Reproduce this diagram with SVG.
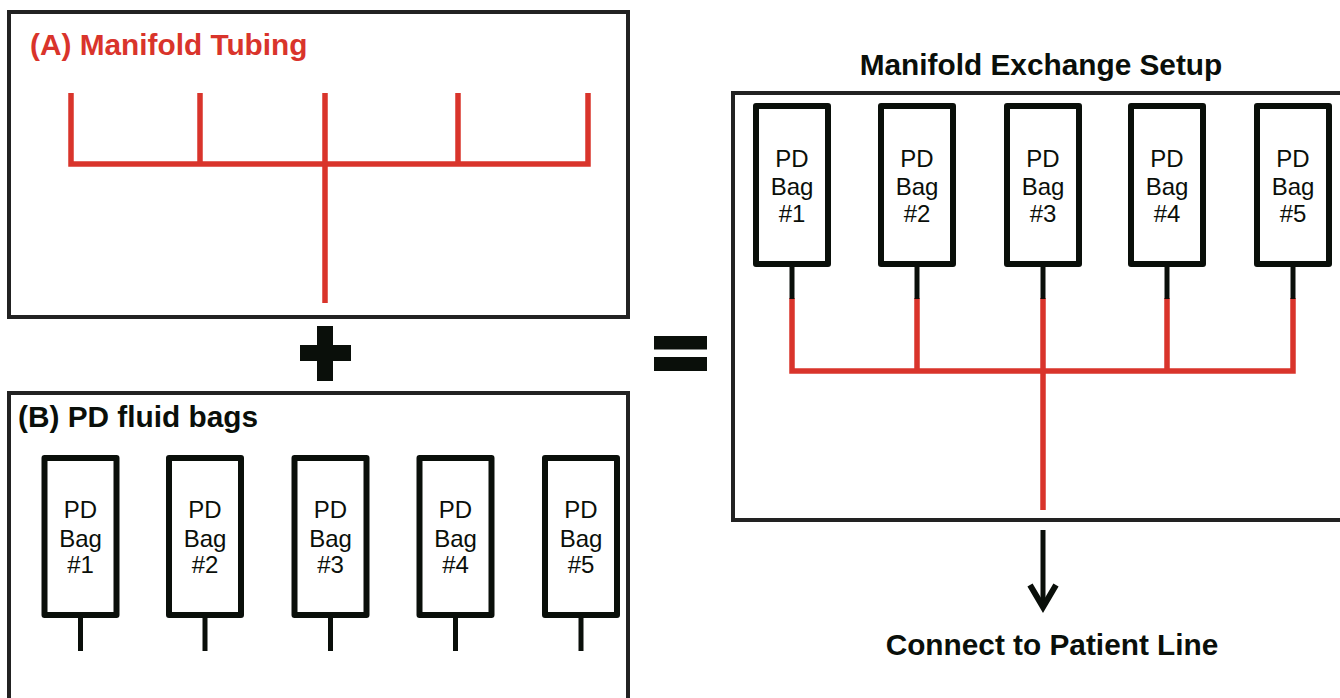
<svg xmlns="http://www.w3.org/2000/svg" width="1340" height="698" viewBox="0 0 1340 698">
<style>
.panel{fill:#fff;stroke:#222;stroke-width:4}
.bag{fill:#fff;stroke:#0a0f0a;stroke-width:6;stroke-linejoin:round}
.stem{stroke:#0a0f0a;stroke-width:5;fill:none}
.tube{stroke:#d9342b;stroke-width:5.5;fill:none;stroke-linecap:butt}
.bt{font-family:"Liberation Sans",Arial,sans-serif;font-size:24px;fill:#0a0f0a;text-anchor:middle}
.title{font-family:"Liberation Sans",Arial,sans-serif;font-size:29.8px;font-weight:bold;fill:#0a0f0a}
</style>
<rect width="1340" height="698" fill="#fff"/>

<g id="panel-a">
<rect class="panel" x="9" y="12" width="619" height="305"/>
<text class="title" x="30" y="55" style="fill:#d9342b">(A) Manifold Tubing</text>
<g id="manifold-a">
<path class="tube" d="M71,93 V164 H588 V93 M200,93 V164 M325,93 V303 M458,93 V164"/>
</g>
</g>

<g id="plus">
<rect x="317" y="326" width="16" height="55" fill="#0a0f0a"/>
<rect x="300" y="345" width="51" height="16" fill="#0a0f0a"/>
</g>

<g id="equals">
<rect x="654" y="336" width="53" height="13.5" fill="#0a0f0a"/>
<rect x="654" y="357" width="53" height="14" fill="#0a0f0a"/>
</g>

<g id="panel-b">
<rect class="panel" x="9" y="393" width="619" height="320"/>
<text class="title" x="18" y="427">(B) PD fluid bags</text>
</g>

<g id="b-bag1">
<rect class="bag" x="44.5" y="458" width="72" height="157"/>
<line class="stem" x1="80.5" y1="617" x2="80.5" y2="651"/>
<text class="bt" x="80.5" y="518">PD</text><text class="bt" x="80.5" y="547">Bag</text><text class="bt" x="80.5" y="573">#1</text>
</g>
<g id="b-bag2">
<rect class="bag" x="169" y="458" width="72" height="157"/>
<line class="stem" x1="205" y1="617" x2="205" y2="651"/>
<text class="bt" x="205" y="518">PD</text><text class="bt" x="205" y="547">Bag</text><text class="bt" x="205" y="573">#2</text>
</g>
<g id="b-bag3">
<rect class="bag" x="294.5" y="458" width="72" height="157"/>
<line class="stem" x1="330.5" y1="617" x2="330.5" y2="651"/>
<text class="bt" x="330.5" y="518">PD</text><text class="bt" x="330.5" y="547">Bag</text><text class="bt" x="330.5" y="573">#3</text>
</g>
<g id="b-bag4">
<rect class="bag" x="419.5" y="458" width="72" height="157"/>
<line class="stem" x1="455.5" y1="617" x2="455.5" y2="651"/>
<text class="bt" x="455.5" y="518">PD</text><text class="bt" x="455.5" y="547">Bag</text><text class="bt" x="455.5" y="573">#4</text>
</g>
<g id="b-bag5">
<rect class="bag" x="545" y="458" width="72" height="157"/>
<line class="stem" x1="581" y1="617" x2="581" y2="651"/>
<text class="bt" x="581" y="518">PD</text><text class="bt" x="581" y="547">Bag</text><text class="bt" x="581" y="573">#5</text>
</g>

<g id="panel-setup">
<text class="title" x="1041" y="75" text-anchor="middle">Manifold Exchange Setup</text>
<rect class="panel" x="733" y="93" width="620" height="427"/>
</g>

<g id="connectors">
<path class="tube" d="M792,298 V371 H1293 V298 M917,298 V371 M1043,298 V510 M1167,298 V371"/>
<line class="stem" x1="792" y1="267" x2="792" y2="299"/>
<line class="stem" x1="917" y1="267" x2="917" y2="299"/>
<line class="stem" x1="1043" y1="267" x2="1043" y2="299"/>
<line class="stem" x1="1167" y1="267" x2="1167" y2="299"/>
<line class="stem" x1="1293" y1="267" x2="1293" y2="299"/>
<g id="arrow-out">
<line x1="1043" y1="530" x2="1043" y2="604" stroke="#0a0f0a" stroke-width="5"/>
<polyline points="1030,585 1043,607 1056,585" fill="none" stroke="#0a0f0a" stroke-width="6" stroke-linejoin="miter"/>
</g>
</g>

<g id="s-bag1">
<rect class="bag" x="756" y="106" width="72" height="158"/>
<text class="bt" x="792" y="167">PD</text><text class="bt" x="792" y="195">Bag</text><text class="bt" x="792" y="222">#1</text>
</g>
<g id="s-bag2">
<rect class="bag" x="881" y="106" width="72" height="158"/>
<text class="bt" x="917" y="167">PD</text><text class="bt" x="917" y="195">Bag</text><text class="bt" x="917" y="222">#2</text>
</g>
<g id="s-bag3">
<rect class="bag" x="1007" y="106" width="72" height="158"/>
<text class="bt" x="1043" y="167">PD</text><text class="bt" x="1043" y="195">Bag</text><text class="bt" x="1043" y="222">#3</text>
</g>
<g id="s-bag4">
<rect class="bag" x="1131" y="106" width="72" height="158"/>
<text class="bt" x="1167" y="167">PD</text><text class="bt" x="1167" y="195">Bag</text><text class="bt" x="1167" y="222">#4</text>
</g>
<g id="s-bag5">
<rect class="bag" x="1257" y="106" width="72" height="158"/>
<text class="bt" x="1293" y="167">PD</text><text class="bt" x="1293" y="195">Bag</text><text class="bt" x="1293" y="222">#5</text>
</g>

<g id="patient-line">
<text class="title" x="1052" y="655" text-anchor="middle">Connect to Patient Line</text>
</g>
</svg>
